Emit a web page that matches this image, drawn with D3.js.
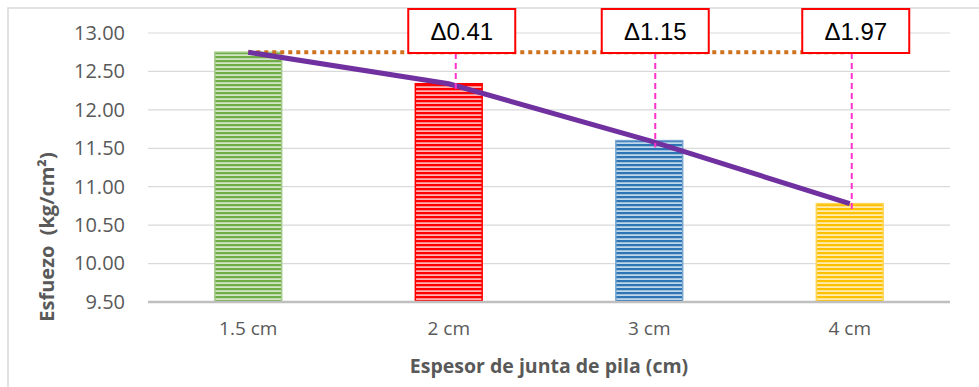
<!DOCTYPE html>
<html>
<head>
<meta charset="utf-8">
<script src="https://cdn.jsdelivr.net/npm/d3@7"></script>
<style>
  html, body { margin: 0; padding: 0; background: #fff; }
  svg { display: block; }
</style>
</head>
<body>
<svg id="chart" width="979" height="387"></svg>
<script>
// Compressive stress by mortar joint thickness
const categories = ["1.5 cm", "2 cm", "3 cm", "4 cm"];
const stressValues = [12.75, 12.34, 11.60, 10.78];
const barColors = ["#70AD47", "#FF0000", "#2E75B6", "#FFC000"];
const yTicks = [9.5, 10, 10.5, 11, 11.5, 12, 12.5, 13];
const yTitle = "Esfuezo  (kg/cm²)";
const xTitle = "Espesor de junta de pila (cm)";

const svg = d3.select("#chart");
const W = 979, H = 387;
const plot = { left: 148, right: 950, top: 33, bottom: 302 };

// chart frame
svg.append("rect").attr("x", 8).attr("y", 8).attr("width", W).attr("height", H)
  .attr("fill", "#fff").attr("stroke", "#D9D9D9").attr("stroke-width", 1.5);

const x = d3.scaleBand().domain(categories).range([plot.left, plot.right]).padding(0);
const y = d3.scaleLinear().domain([9.5, 13]).range([plot.bottom, plot.top]);
const barW = x.bandwidth() / 3;
const cx = c => x(c) + x.bandwidth() / 2;

// striped fills for the bars
const defs = svg.append("defs");
barColors.forEach((col, i) => {
  const p = defs.append("pattern").attr("id", "stripe" + i)
    .attr("patternUnits", "userSpaceOnUse").attr("width", 8).attr("height", 4);
  const tint = d3.interpolateRgb(col, "#ffffff")(0.7);
  p.append("rect").attr("width", 8).attr("height", 4).attr("fill", tint);
  p.append("rect").attr("y", 0).attr("width", 8).attr("height", 2).attr("fill", col);
  p.append("rect").attr("y", 2).attr("width", 8).attr("height", 0.6).attr("fill", col).attr("opacity", 0.4);
});

// gridlines
svg.append("g").selectAll("line").data(yTicks.filter(t => t > 9.5)).join("line")
  .attr("x1", plot.left).attr("x2", plot.right)
  .attr("y1", d => y(d)).attr("y2", d => y(d))
  .attr("stroke", "#D9D9D9").attr("stroke-width", 1.2);

// y axis labels
const yAxis = d3.axisLeft(y).tickValues(yTicks).tickFormat(d3.format(".2f")).tickSize(0).tickPadding(23);
const gy = svg.append("g").attr("transform", `translate(${plot.left},0)`).call(yAxis);
gy.select(".domain").remove();
gy.selectAll("text").attr("fill", "#595959")
  .style("font-family", "'Open Sans', sans-serif").style("font-size", "20px");

// bars
svg.append("g").selectAll("rect").data(stressValues).join("rect")
  .attr("x", (d, i) => cx(categories[i]) - barW / 2)
  .attr("y", d => y(d))
  .attr("width", barW)
  .attr("height", d => plot.bottom - y(d))
  .attr("fill", (d, i) => `url(#stripe${i})`)
  .attr("stroke", (d, i) => d3.interpolateRgb(barColors[i], "#ffffff")(i === 1 ? 0 : 0.35))
  .attr("stroke-width", 1.5);

// x axis
const xAxis = d3.axisBottom(x).tickSize(0).tickPadding(20);
const gx = svg.append("g").attr("transform", `translate(0,${plot.bottom})`).call(xAxis);
gx.select(".domain").remove();
gx.selectAll("text").attr("fill", "#595959")
  .style("font-family", "'Open Sans', sans-serif").style("font-size", "19px");
svg.append("line").attr("x1", plot.left).attr("x2", plot.right)
  .attr("y1", plot.bottom).attr("y2", plot.bottom)
  .attr("stroke", "#BFBFBF").attr("stroke-width", 2.5);

// reference level of the thinnest joint
svg.append("line")
  .attr("x1", cx(categories[0])).attr("x2", cx(categories[3]))
  .attr("y1", y(stressValues[0])).attr("y2", y(stressValues[0]))
  .attr("stroke", "#D0731E").attr("stroke-width", 4).attr("stroke-dasharray", "4,4");

// trend through the bar tops
const line = d3.line().x((d, i) => cx(categories[i])).y(d => y(d));
svg.append("path").datum(stressValues).attr("d", line)
  .attr("fill", "none").attr("stroke", "#7030A0").attr("stroke-width", 5);

// drop annotations
const lineDx = [0, 7, 6, 2];
const boxDx = [0, 13, 6, 6];
const boxW = 107, boxTop = 9, boxH = 44;
const ann = svg.append("g");
stressValues.forEach((v, i) => {
  if (i === 0) return;
  const lx = cx(categories[i]) + lineDx[i];
  ann.append("line").attr("x1", lx).attr("x2", lx)
    .attr("y1", boxTop + boxH).attr("y2", y(v) + 7)
    .attr("stroke", "#FF33CC").attr("stroke-width", 2).attr("stroke-dasharray", "6,4");
  const bx = cx(categories[i]) + boxDx[i];
  ann.append("rect").attr("x", bx - boxW / 2).attr("y", boxTop)
    .attr("width", boxW).attr("height", boxH)
    .attr("fill", "#fff").attr("stroke", "#FF0000").attr("stroke-width", 2);
  ann.append("text").attr("x", bx).attr("y", boxTop + boxH / 2 + 8.5)
    .attr("text-anchor", "middle")
    .style("font-family", "'Liberation Sans', Arial, sans-serif").style("font-size", "24px")
    .attr("fill", "#000")
    .text("Δ" + d3.format(".2f")(stressValues[0] - v));
});

// axis titles
svg.append("text").attr("transform", "translate(54,237) rotate(-90)")
  .attr("text-anchor", "middle").attr("fill", "#595959")
  .style("white-space", "pre")
  .style("font-family", "'Open Sans', sans-serif").style("font-size", "20px").style("font-weight", "bold")
  .text(yTitle);
svg.append("text").attr("x", 549).attr("y", 373)
  .attr("text-anchor", "middle").attr("fill", "#595959")
  .style("font-family", "'Open Sans', sans-serif").style("font-size", "19.5px").style("font-weight", "bold")
  .text(xTitle);
</script>
</body>
</html>
